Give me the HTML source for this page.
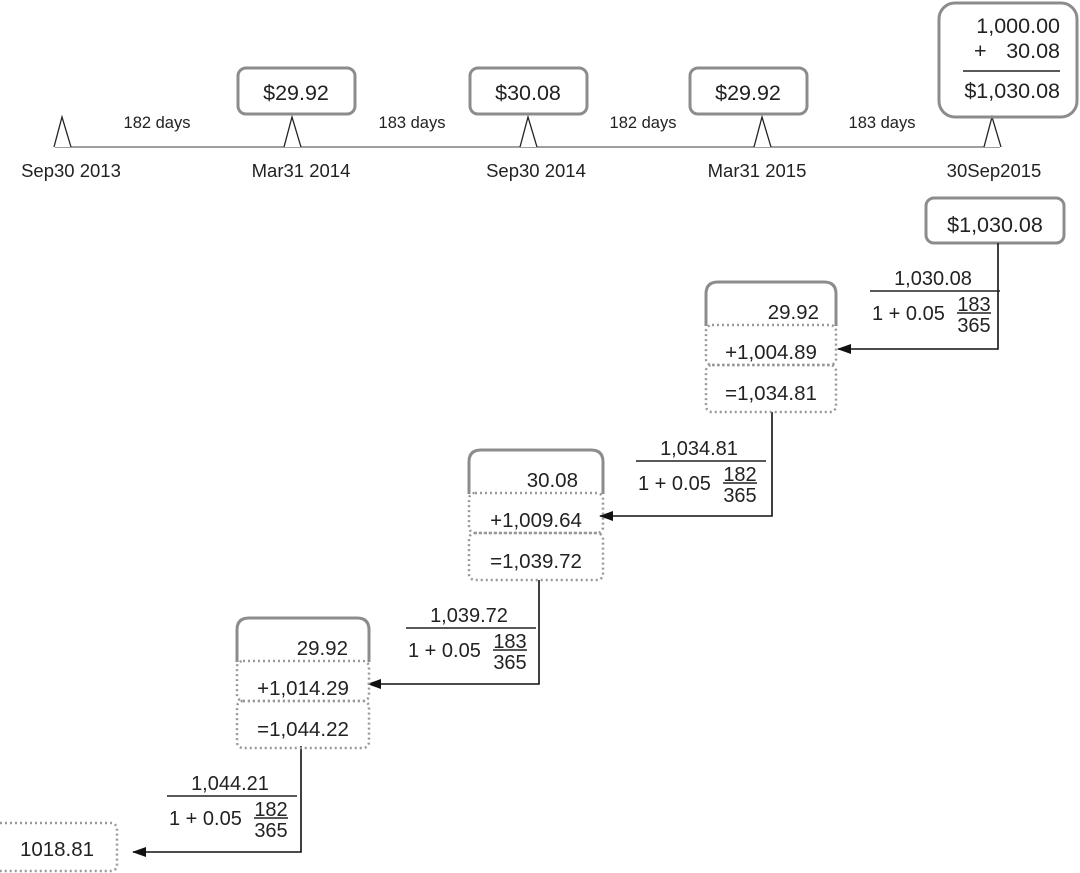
<!DOCTYPE html>
<html><head><style>
html,body{margin:0;padding:0;background:#fff}
svg{display:block}
text{font-family:"Liberation Sans",sans-serif;fill:#222}
</style></head><body>
<svg width="1080" height="873" viewBox="0 0 1080 873">
<defs>
<marker id="ar" markerWidth="14" markerHeight="10" refX="13" refY="5" orient="auto" markerUnits="userSpaceOnUse"><path d="M0,0 L14,5 L0,10 Z" fill="#111"/></marker>
<g id="frac">
<line x1="0" y1="0" x2="130" y2="0" stroke="#222" stroke-width="1.6"/>
<line x1="87" y1="22" x2="121" y2="22" stroke="#222" stroke-width="1.4"/>
</g>
</defs>
<line x1="55" y1="147" x2="1000" y2="147" stroke="#666" stroke-width="1.3"/>
<g fill="#fff" stroke="#222" stroke-width="1.3">
<path d="M54,147 L62,117 L71,147"/>
<path d="M284,147 L292,117 L301,147"/>
<path d="M520,147 L528,117 L537,147"/>
<path d="M754,147 L762,117 L771,147"/>
<path d="M984,147 L992,117 L1001,147"/>
</g>
<g font-size="16.5">
<text x="157" y="128" text-anchor="middle">182 days</text>
<text x="412" y="128" text-anchor="middle">183 days</text>
<text x="643" y="128" text-anchor="middle">182 days</text>
<text x="882" y="128" text-anchor="middle">183 days</text>
</g>
<g font-size="18.5">
<text x="71" y="177" text-anchor="middle">Sep30 2013</text>
<text x="301" y="177" text-anchor="middle">Mar31 2014</text>
<text x="536" y="177" text-anchor="middle">Sep30 2014</text>
<text x="757" y="177" text-anchor="middle">Mar31 2015</text>
<text x="994" y="177" text-anchor="middle">30Sep2015</text>
</g>
<g fill="none" stroke="#8c8c8c" stroke-width="3">
<rect x="238" y="68" width="117" height="46" rx="8"/>
<rect x="470" y="68" width="117" height="46" rx="8"/>
<rect x="690" y="68" width="117" height="46" rx="8"/>
<rect x="939" y="3" width="138" height="114" rx="16"/>
<rect x="926" y="198" width="138" height="45" rx="8"/>
</g>
<g font-size="21.5">
<text x="296" y="100" text-anchor="middle">$29.92</text>
<text x="528" y="100" text-anchor="middle">$30.08</text>
<text x="748" y="100" text-anchor="middle">$29.92</text>
<text x="1060" y="33" text-anchor="end">1,000.00</text>
<text x="974" y="58">+</text>
<text x="1060" y="58" text-anchor="end">30.08</text>
<text x="1060" y="98" text-anchor="end">$1,030.08</text>
<text x="995" y="232" text-anchor="middle">$1,030.08</text>
</g>
<line x1="963" y1="71" x2="1060" y2="71" stroke="#222" stroke-width="1.6"/>

<g stroke="#111" stroke-width="1.6" fill="none">
<path d="M998,243 V349 H838" marker-end="url(#ar)"/>
<path d="M772,412 V516 H600" marker-end="url(#ar)"/>
<path d="M539,580 V684 H368" marker-end="url(#ar)"/>
<path d="M301,746 V852 H133" marker-end="url(#ar)"/>
</g>

<g font-size="20">
<g transform="translate(870,291)"><use href="#frac"/>
<text x="63" y="-6" text-anchor="middle">1,030.08</text><text x="2" y="29">1 + 0.05</text>
<text x="104" y="20" text-anchor="middle">183</text><text x="104" y="41" text-anchor="middle">365</text></g>
<g transform="translate(636,461)"><use href="#frac"/>
<text x="63" y="-6" text-anchor="middle">1,034.81</text><text x="2" y="29">1 + 0.05</text>
<text x="104" y="20" text-anchor="middle">182</text><text x="104" y="41" text-anchor="middle">365</text></g>
<g transform="translate(406,628)"><use href="#frac"/>
<text x="63" y="-6" text-anchor="middle">1,039.72</text><text x="2" y="29">1 + 0.05</text>
<text x="104" y="20" text-anchor="middle">183</text><text x="104" y="41" text-anchor="middle">365</text></g>
<g transform="translate(167,796)"><use href="#frac"/>
<text x="63" y="-6" text-anchor="middle">1,044.21</text><text x="2" y="29">1 + 0.05</text>
<text x="104" y="20" text-anchor="middle">182</text><text x="104" y="41" text-anchor="middle">365</text></g>
</g>

<g font-size="20.5">
<g transform="translate(706,282)">
<path d="M0,44 V12 Q0,0 12,0 H118 Q130,0 130,12 V44" fill="none" stroke="#8c8c8c" stroke-width="3"/>
<rect x="0" y="43" width="130" height="40" rx="6" fill="none" stroke="#999" stroke-width="2.5" stroke-dasharray="2 3"/>
<rect x="0" y="83" width="130" height="47" rx="6" fill="none" stroke="#999" stroke-width="2.5" stroke-dasharray="2 3"/>
<text x="113" y="37" text-anchor="end">29.92</text>
<text x="65" y="77" text-anchor="middle">+1,004.89</text>
<text x="65" y="118" text-anchor="middle">=1,034.81</text></g>
<g transform="translate(469,450)">
<path d="M0,44 V12 Q0,0 12,0 H122 Q134,0 134,12 V44" fill="none" stroke="#8c8c8c" stroke-width="3"/>
<rect x="0" y="43" width="134" height="40" rx="6" fill="none" stroke="#999" stroke-width="2.5" stroke-dasharray="2 3"/>
<rect x="0" y="83" width="134" height="47" rx="6" fill="none" stroke="#999" stroke-width="2.5" stroke-dasharray="2 3"/>
<text x="109" y="37" text-anchor="end">30.08</text>
<text x="67" y="77" text-anchor="middle">+1,009.64</text>
<text x="67" y="118" text-anchor="middle">=1,039.72</text></g>
<g transform="translate(237,618)">
<path d="M0,44 V12 Q0,0 12,0 H120 Q132,0 132,12 V44" fill="none" stroke="#8c8c8c" stroke-width="3"/>
<rect x="0" y="43" width="132" height="40" rx="6" fill="none" stroke="#999" stroke-width="2.5" stroke-dasharray="2 3"/>
<rect x="0" y="83" width="132" height="47" rx="6" fill="none" stroke="#999" stroke-width="2.5" stroke-dasharray="2 3"/>
<text x="111" y="37" text-anchor="end">29.92</text>
<text x="66" y="77" text-anchor="middle">+1,014.29</text>
<text x="66" y="118" text-anchor="middle">=1,044.22</text></g>
<rect x="-6" y="823" width="123" height="48" rx="6" fill="none" stroke="#999" stroke-width="2.5" stroke-dasharray="2 3"/>
<text x="57" y="856" text-anchor="middle">1018.81</text>
</g>
</svg>
</body></html>
